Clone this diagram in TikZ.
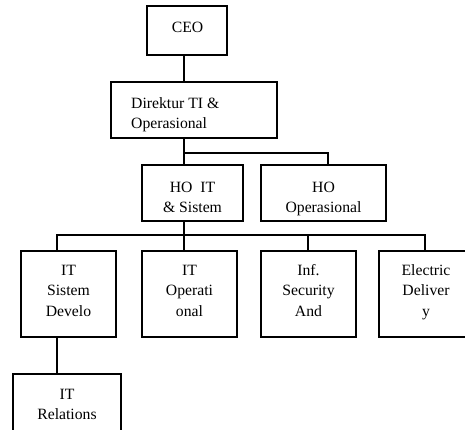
\documentclass[tikz,border=0pt]{standalone}
\usepackage{fontspec}
\setmainfont{Liberation Serif}
\begin{document}
\begin{tikzpicture}[x=1pt,y=-1pt,
    box/.style={draw, line width=1.5pt, inner sep=0pt},
    txt/.style={anchor=base, align=center, inner sep=0pt, font=\fontsize{15.7}{20.5}\selectfont},
    link/.style={line width=1.5pt}]
    \useasboundingbox (0,0) rectangle (465,429);
    \clip (0,0) rectangle (465,429);
    % boxes
    \node[box, minimum width=80pt, minimum height=49pt] (ceo) at (187,30.5) {};
    \node[box, minimum width=166pt, minimum height=56pt] (dir) at (194,110) {};
    \node[box, minimum width=101pt, minimum height=56pt] (hoit) at (192.5,193) {};
    \node[box, minimum width=125pt, minimum height=56pt] (hoops) at (323.5,193) {};
    \node[box, minimum width=95pt, minimum height=86pt] (sisdev) at (68.5,294) {};
    \node[box, minimum width=95pt, minimum height=86pt] (itops) at (189.5,294) {};
    \node[box, minimum width=95pt, minimum height=86pt] (infsec) at (308.5,294) {};
    \node[box, minimum width=94pt, minimum height=86pt] (elec) at (426,294) {};
    \node[box, minimum width=108pt, minimum height=70pt] (itrel) at (67,409) {};
    % texts (placed at the baseline of their last line)
    \node[txt] (ceo-t) at (187.5,32) {CEO};
    \node[txt, anchor=base west, align=left] (dir-t) at (131,128.5) {Direktur TI \&\\Operasional};
    \node[txt] (hoit-t) at (192.5,212.5) {HO\ \ IT\\\& Sistem};
    \node[txt] (hoops-t) at (323.5,212.5) {HO\\Operasional};
    \node[txt] (sisdev-t) at (68.5,316) {IT\\Sistem\\Develo};
    \node[txt] (itops-t) at (189.5,316) {IT\\Operati\\onal};
    \node[txt] (infsec-t) at (308.5,316) {Inf.\\Security\\And};
    \node[txt] (elec-t) at (426,316) {Electric\\Deliver\\y};
    \node[txt] (itrel-t) at (67,419.5) {IT\\Relations};
    % connectors
    \coordinate (axis) at (184,0);
    \coordinate (split) at (184,153);
    \coordinate (bus) at (184,235);
    \draw[link] (ceo.south -| axis) -- (dir.north -| axis);
    \draw[link] (dir.south -| axis) -- (hoit.north -| axis);
    \draw[link] (split) -| ([xshift=4.5pt]hoops.north);
    \draw[link] (hoit.south -| axis) -- (bus);
    \draw[link] ([xshift=-11.5pt]sisdev.north) |- (bus) -| ([xshift=-1pt]elec.north);
    \foreach \n/\dx in {itops/-5.5, infsec/-0.5}
      \draw[link] ([xshift=\dx pt]\n.north) -- ([xshift=\dx pt]\n.north |- bus);
    \draw[link] ([xshift=-11.5pt]sisdev.south) -- ([xshift=-11.5pt]sisdev.south |- itrel.north);
\end{tikzpicture}
\end{document}
